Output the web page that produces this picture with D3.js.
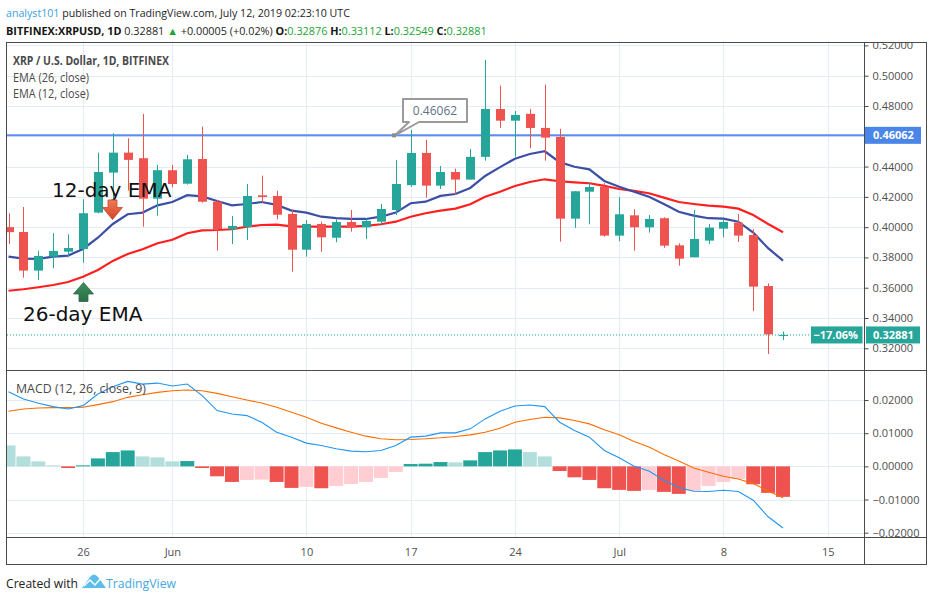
<!DOCTYPE html>
<html><head><meta charset="utf-8">
<script src="https://cdn.jsdelivr.net/npm/d3@7"></script>
<style>body{margin:0;background:#fff;} svg{display:block;}</style>
</head><body><svg id="c" width="933" height="601"></svg>
<script>
// ---------------- DATA ----------------
const dates = ["2019-05-21","2019-05-22","2019-05-23","2019-05-24","2019-05-25","2019-05-26","2019-05-27","2019-05-28","2019-05-29","2019-05-30","2019-05-31",
"2019-06-01","2019-06-02","2019-06-03","2019-06-04","2019-06-05","2019-06-06","2019-06-07","2019-06-08","2019-06-09","2019-06-10","2019-06-11","2019-06-12","2019-06-13","2019-06-14","2019-06-15","2019-06-16","2019-06-17","2019-06-18","2019-06-19","2019-06-20","2019-06-21","2019-06-22","2019-06-23","2019-06-24","2019-06-25","2019-06-26","2019-06-27","2019-06-28","2019-06-29","2019-06-30",
"2019-07-01","2019-07-02","2019-07-03","2019-07-04","2019-07-05","2019-07-06","2019-07-07","2019-07-08","2019-07-09","2019-07-10","2019-07-11","2019-07-12"];
const openV  = [0.4000,0.3968,0.3713,0.3805,0.3838,0.3856,0.4096,0.4360,0.4492,0.4455,0.4188,0.4376,0.4287,0.4450,0.4168,0.3986,0.4001,0.4210,0.4206,0.4087,0.3851,0.4021,0.3930,0.4034,0.3999,0.4036,0.4113,0.4277,0.4490,0.4274,0.4364,0.4314,0.4464,0.4780,0.4703,0.4748,0.4655,0.4596,0.4056,0.4234,0.4267,0.3944,0.4078,0.3999,0.4059,0.3880,0.3801,0.3911,0.3990,0.4030,0.3948,0.3611,0.32876];
const highV  = [0.4092,0.4133,0.3845,0.3960,0.3953,0.4184,0.4492,0.4620,0.4587,0.4748,0.4411,0.4411,0.4477,0.4664,0.4180,0.4074,0.4285,0.4340,0.4241,0.4118,0.4047,0.4036,0.4052,0.4113,0.4056,0.4153,0.4444,0.4642,0.4576,0.4404,0.4386,0.4516,0.5104,0.4934,0.4767,0.4779,0.4941,0.4649,0.4237,0.4296,0.4290,0.4197,0.4118,0.4080,0.4065,0.3893,0.4113,0.4021,0.4054,0.4087,0.3986,0.3629,0.33112];
const lowV   = [0.3889,0.3666,0.3651,0.3728,0.3810,0.3765,0.4092,0.4184,0.4241,0.4003,0.4076,0.4263,0.4281,0.4162,0.3845,0.3889,0.3915,0.4162,0.4052,0.3706,0.3805,0.3838,0.3900,0.3970,0.3922,0.4012,0.4080,0.4267,0.4195,0.4252,0.4213,0.4314,0.4439,0.4655,0.4466,0.4521,0.4439,0.3904,0.3995,0.4019,0.3937,0.3907,0.3845,0.3964,0.3864,0.3746,0.3801,0.3889,0.3933,0.3902,0.3446,0.3162,0.32549];
const closeV = [0.3967,0.3713,0.3810,0.3843,0.3862,0.4092,0.4364,0.4492,0.4444,0.4188,0.4376,0.4285,0.4448,0.4168,0.3986,0.4008,0.4206,0.4199,0.4082,0.3851,0.4021,0.3933,0.4034,0.3999,0.4041,0.4120,0.4285,0.4490,0.4274,0.4364,0.4314,0.4464,0.4780,0.4703,0.4741,0.4655,0.4591,0.4056,0.4237,0.4265,0.3944,0.4085,0.3999,0.4054,0.3878,0.3792,0.3922,0.3997,0.4034,0.3944,0.3607,0.3292,0.32881];
const ema12  = [0.3805,0.3792,0.3790,0.3805,0.3812,0.3856,0.3930,0.4021,0.4085,0.4096,0.4144,0.4166,0.4211,0.4203,0.4173,0.4144,0.4153,0.4166,0.4147,0.4109,0.4096,0.4069,0.4059,0.4054,0.4054,0.4069,0.4096,0.4158,0.4168,0.4206,0.4219,0.4259,0.4338,0.4396,0.4452,0.4483,0.4501,0.4429,0.4399,0.4382,0.4305,0.4267,0.4234,0.4201,0.4153,0.4102,0.4076,0.4059,0.4056,0.4036,0.3964,0.3861,0.3779];
const ema26  = [0.3580,0.3590,0.3603,0.3618,0.3638,0.3673,0.3717,0.3777,0.3823,0.3854,0.3894,0.3917,0.3960,0.3979,0.3981,0.3986,0.4003,0.4014,0.4016,0.4005,0.4004,0.4004,0.4004,0.4004,0.4008,0.4019,0.4036,0.4069,0.4092,0.4109,0.4122,0.4151,0.4201,0.4234,0.4272,0.4298,0.4316,0.4303,0.4296,0.4290,0.4272,0.4252,0.4239,0.4224,0.4195,0.4166,0.4153,0.4142,0.4135,0.4122,0.4080,0.4021,0.3966];
const macdV  = [0.0225,0.0203,0.0190,0.0180,0.0173,0.0183,0.0218,0.0240,0.0256,0.0248,0.0251,0.0242,0.0248,0.0213,0.0168,0.0158,0.0153,0.0133,0.0103,0.0088,0.0070,0.0063,0.0053,0.0046,0.0044,0.0048,0.0063,0.0088,0.0091,0.0101,0.0101,0.0113,0.0143,0.0166,0.0182,0.0185,0.0180,0.0133,0.0108,0.0088,0.0048,0.0026,0.0000,-0.0014,-0.0042,-0.0064,-0.0075,-0.0076,-0.0072,-0.0076,-0.0102,-0.0152,-0.0186];
const signalV= [0.0166,0.0173,0.0176,0.0177,0.0177,0.0178,0.0186,0.0195,0.0208,0.0216,0.0223,0.0228,0.0230,0.0228,0.0220,0.0210,0.0200,0.0191,0.0178,0.0163,0.0148,0.0130,0.0116,0.0103,0.0091,0.0083,0.0080,0.0081,0.0083,0.0086,0.0090,0.0095,0.0103,0.0115,0.0133,0.0141,0.0148,0.0146,0.0138,0.0128,0.0110,0.0095,0.0075,0.0058,0.0036,0.0016,-0.0005,-0.0018,-0.0030,-0.0038,-0.0052,-0.0074,-0.0095];
const histV  = [0.0063,0.0030,0.0015,0.0003,-0.0005,0.0003,0.0024,0.0043,0.0048,0.0030,0.0027,0.0015,0.0016,-0.0005,-0.0030,-0.0047,-0.0041,-0.0040,-0.0047,-0.0065,-0.0062,-0.0066,-0.0059,-0.0053,-0.0047,-0.0035,-0.0017,0.0007,0.0008,0.0013,0.0012,0.0018,0.0043,0.0048,0.0051,0.0043,0.0030,-0.0014,-0.0033,-0.0041,-0.0066,-0.0071,-0.0074,-0.0071,-0.0077,-0.0083,-0.0074,-0.0059,-0.0047,-0.0038,-0.0054,-0.0080,-0.0092];
const xTickDates  = ["2019-05-26","2019-06-01","2019-06-10","2019-06-17","2019-06-24","2019-07-01","2019-07-08","2019-07-15"];
const xTickLabels = ["26","Jun","10","17","24","Jul","8","15"];
const priceTicks  = [0.32,0.34,0.36,0.38,0.40,0.42,0.44,0.46,0.48,0.50,0.52];
const macdTicks   = [-0.02,-0.01,0,0.01,0.02];
const levelPrice  = 0.46062;
const lastPrice   = 0.32881;
const lastChange  = "−17.06%";

// ---------------- SETUP ----------------
const svg = d3.select('#c');
const parse = d3.utcParse('%Y-%m-%d');
const dts = dates.map(parse);
const L = 6.5, R = 864.5, T = 42.5, SEP = 370.5, XB = 537.5, B = 564.5, OR = 926.5;
const x  = d3.scaleUtc().domain([parse("2019-05-26"), parse("2019-07-15")]).range([83, 827.7]);
const yP = d3.scaleLinear().domain([0.32, 0.50]).range([348.3, 75.7]);
const yM = d3.scaleLinear().domain([-0.02, 0.02]).range([532.7, 400]);
const FONT = "'Open Sans', 'Noto Sans', sans-serif";
const GREEN = "#26a69a", RED = "#ef5350";

function fit(sel, w) {
  const cur = sel.node().getComputedTextLength();
  if (Math.abs(cur - w) > 1) sel.attr('textLength', w).attr('lengthAdjust', 'spacingAndGlyphs');
  return sel;
}
// shrink font-size so the text's natural width is w
function fitSize(sel, w) {
  const fs = parseFloat(sel.attr('font-size'));
  const cur = sel.node().getComputedTextLength();
  sel.attr('font-size', (fs * w / cur).toFixed(2));
  return sel;
}

const defs = svg.append('defs');
defs.append('clipPath').attr('id','cp').append('rect').attr('x',7).attr('y',43).attr('width',R-7).attr('height',SEP-43);
defs.append('clipPath').attr('id','cm').append('rect').attr('x',7).attr('y',SEP+0.5).attr('width',R-7).attr('height',XB-SEP-1);
defs.append('clipPath').attr('id','cpa').append('rect').attr('x',R).attr('y',43).attr('width',70).attr('height',SEP-43);
defs.append('clipPath').attr('id','cma').append('rect').attr('x',R).attr('y',SEP+0.5).attr('width',70).attr('height',XB-SEP-1);
const gr = defs.append('linearGradient').attr('id','gRed').attr('x1',0).attr('x2',0).attr('y1',0).attr('y2',1);
gr.append('stop').attr('offset','0%').attr('stop-color','#f07a55');
gr.append('stop').attr('offset','100%').attr('stop-color','#d2452a');
const gg = defs.append('linearGradient').attr('id','gGreen').attr('x1',0).attr('x2',0).attr('y1',0).attr('y2',1);
gg.append('stop').attr('offset','0%').attr('stop-color','#3f8f5e');
gg.append('stop').attr('offset','100%').attr('stop-color','#2b6e45');

// ---------------- GRID ----------------
const grid = svg.append('g').attr('stroke','#e4ebf2').attr('stroke-width',1);
priceTicks.forEach(v => { const yy = Math.round(yP(v))+0.5; if (yy>43 && yy<SEP) grid.append('line').attr('x1',7).attr('x2',R).attr('y1',yy).attr('y2',yy); });
macdTicks.forEach(v => { const yy = Math.round(yM(v))+0.5; grid.append('line').attr('x1',7).attr('x2',R).attr('y1',yy).attr('y2',yy); });
xTickDates.forEach(s => { const xx = Math.round(x(parse(s)))+0.5;
  grid.append('line').attr('x1',xx).attr('x2',xx).attr('y1',43).attr('y2',SEP);
  grid.append('line').attr('x1',xx).attr('x2',xx).attr('y1',SEP+1).attr('y2',XB); });

// ---------------- PRICE PANE ----------------
const pp = svg.append('g').attr('clip-path','url(#cp)');
pp.append('line').attr('x1',7).attr('x2',R).attr('y1',yP(levelPrice)).attr('y2',yP(levelPrice))
  .attr('stroke','#5b8ef0').attr('stroke-width',2);
pp.append('line').attr('x1',7).attr('x2',811).attr('y1',yP(lastPrice)).attr('y2',yP(lastPrice))
  .attr('stroke',GREEN).attr('stroke-width',1).attr('stroke-dasharray','1,2');
const lineP = arr => d3.line().x((d,i)=>x(dts[i])).y(d=>yP(d))(arr);
pp.append('path').attr('d',lineP(ema26)).attr('fill','none').attr('stroke','#ff1f1f').attr('stroke-width',2.2);
pp.append('path').attr('d',lineP(ema12)).attr('fill','none').attr('stroke','#3b4fa6').attr('stroke-width',2.2);
const candles = pp.append('g');
dts.forEach((d,i) => {
  const cx = Math.round(x(d)) + 0.5;
  const up = closeV[i] >= openV[i];
  const col = up ? GREEN : RED;
  candles.append('line').attr('x1',cx).attr('x2',cx).attr('y1',yP(highV[i])).attr('y2',yP(lowV[i])).attr('stroke',col).attr('stroke-width',1);
  const top = yP(Math.max(openV[i],closeV[i])), bot = yP(Math.min(openV[i],closeV[i]));
  candles.append('rect').attr('x',cx-4.5).attr('y',top).attr('width',9).attr('height',Math.max(1,bot-top)).attr('fill',col);
});

// callout
const cy = yP(levelPrice);
svg.append('path').attr('d',`M403,99 H467 V122 H419 L395,${cy} L409,122 H403 Z`)
  .attr('fill','#fff').attr('stroke','#9a9a9a').attr('stroke-width',2).attr('stroke-linejoin','round');
svg.append('rect').attr('x',392).attr('y',cy-2).attr('width',4).attr('height',4).attr('fill','#8a8a8a');
svg.append('text').attr('x',435).attr('y',115).attr('text-anchor','middle').attr('font-family',FONT).attr('font-size',12)
  .attr('fill','#5f7285').text(levelPrice.toFixed(5));

// annotations
svg.append('text').attr('x',52).attr('y',197).attr('font-family','DejaVu Sans').attr('font-size',20).attr('fill','#111').text('12-day EMA');
svg.append('text').attr('x',23).attr('y',321).attr('font-family','DejaVu Sans').attr('font-size',20).attr('fill','#111').text('26-day EMA');
svg.append('path').attr('d','M108,200 H117 V207.5 H122.5 L112.5,219.5 L102.5,207.5 H108 Z')
  .attr('fill','url(#gRed)').attr('stroke','#c4492e').attr('stroke-width',0.8);
svg.append('path').attr('d','M79,301.5 H88 V294 H93.5 L83.5,282.5 L73.5,294 H79 Z')
  .attr('fill','url(#gGreen)').attr('stroke','#2a6a45').attr('stroke-width',0.8);

// ---------------- MACD PANE ----------------
const mp = svg.append('g').attr('clip-path','url(#cm)');
histV.forEach((v,i) => {
  const prev = i === 0 ? v + 1 : histV[i-1];
  let col;
  if (v >= 0) col = v > prev ? GREEN : '#b2dfdb';
  else col = v < prev ? RED : '#ffcdd2';
  const cx = x(dts[i]);
  const y0 = yM(0), y1 = yM(v);
  mp.append('rect').attr('x',cx-7).attr('width',14).attr('y',Math.min(y0,y1)).attr('height',Math.max(1,Math.abs(y1-y0))).attr('fill',col);
});
const lineM = arr => d3.line().x((d,i)=>x(dts[i])).y(d=>yM(d))(arr);
mp.append('path').attr('d',lineM(signalV)).attr('fill','none').attr('stroke','#ff6d00').attr('stroke-width',1.1);
mp.append('path').attr('d',lineM(macdV)).attr('fill','none').attr('stroke','#2196f3').attr('stroke-width',1.1);

// ---------------- FRAME & AXES ----------------
const fr = svg.append('g').attr('stroke','#4a4a4a').attr('stroke-width',1).attr('fill','none');
fr.append('rect').attr('x',L).attr('y',T).attr('width',OR-L).attr('height',B-T);
fr.append('line').attr('x1',R).attr('x2',R).attr('y1',T).attr('y2',B);
fr.append('line').attr('x1',L).attr('x2',OR).attr('y1',SEP).attr('y2',SEP);
fr.append('line').attr('x1',L).attr('x2',OR).attr('y1',XB).attr('y2',XB);

function styleAxis(g){
  g.select('.domain').remove();
  g.selectAll('.tick line').attr('stroke','#4a4a4a');
  g.selectAll('.tick text').attr('font-family',FONT).attr('font-size',11).attr('fill','#4f4f4f');
}
const pa = svg.append('g').attr('clip-path','url(#cpa)').append('g').attr('transform',`translate(${R},0)`)
  .call(d3.axisRight(yP).tickValues(priceTicks).tickFormat(d=>d.toFixed(5)).tickSize(4).tickPadding(4));
styleAxis(pa);
const ma = svg.append('g').attr('clip-path','url(#cma)').append('g').attr('transform',`translate(${R},0)`)
  .call(d3.axisRight(yM).tickValues(macdTicks).tickFormat(d=>(d<0?'−':'')+Math.abs(d).toFixed(5)).tickSize(4).tickPadding(4));
styleAxis(ma);
const xa = svg.append('g').attr('transform',`translate(0,${XB})`)
  .call(d3.axisBottom(x).tickValues(xTickDates.map(parse)).tickFormat((d,i)=>xTickLabels[i]).tickSize(0).tickPadding(11));
styleAxis(xa);

// price labels on axis
const ly = yP(levelPrice);
svg.append('rect').attr('x',R+0.5).attr('y',ly-8.5).attr('width',56).attr('height',17).attr('fill','#4a86e8');
svg.append('text').attr('x',873).attr('y',ly+4).attr('font-family',FONT).attr('font-size',11).attr('font-weight','bold').attr('fill','#fff').text(levelPrice.toFixed(5));
const lp = yP(lastPrice);
svg.append('rect').attr('x',811).attr('y',lp-8.5).attr('width',51.5).attr('height',17).attr('fill',GREEN);
svg.append('rect').attr('x',866).attr('y',lp-8.5).attr('width',54).attr('height',17).attr('fill',GREEN);
svg.append('text').attr('x',858).attr('y',lp+4).attr('text-anchor','end').attr('font-family',FONT).attr('font-size',11).attr('font-weight','bold').attr('fill','#fff').text(lastChange);
svg.append('text').attr('x',873).attr('y',lp+4).attr('font-family',FONT).attr('font-size',11).attr('font-weight','bold').attr('fill','#fff').text(lastPrice.toFixed(5));

// ---------------- LEGENDS ----------------
const lg = svg.append('g').attr('font-family',FONT).attr('font-size',12).attr('fill','#4a4a4a');
fit(lg.append('text').attr('x',13).attr('y',65).attr('font-weight','bold').text('XRP / U.S. Dollar, 1D, BITFINEX'), 156);
fit(lg.append('text').attr('x',13).attr('y',81.5).text('EMA (26, close)'), 76);
fit(lg.append('text').attr('x',13).attr('y',98).text('EMA (12, close)'), 76);
fit(lg.append('text').attr('x',16).attr('y',393).attr('font-size',12.5).text('MACD (12, 26, close, 9)'), 130);

// ---------------- HEADER ----------------
const h1 = svg.append('text').attr('x',6).attr('y',17).attr('font-family',FONT).attr('font-size',12.5).attr('fill','#1e1e1e');
h1.append('tspan').attr('fill','#3aa3dc').text('analyst101');
h1.append('tspan').text(' published on TradingView.com, July 12, 2019 02:23:10 UTC');
fitSize(h1, 344);

const headSegs = [["BITFINEX:XRPUSD, 1D", "bold", "#131313"], [" 0.32881 ", "normal", "#1e1e1e"], ["▲", "normal", "#21a336"],
  [" +0.00005 (+0.02%) ", "normal", "#1e1e1e"], ["O:", "bold", "#131313"], ["0.32876", "normal", "#21a336"],
  [" H:", "bold", "#131313"], ["0.33112", "normal", "#21a336"], [" L:", "bold", "#131313"], ["0.32549", "normal", "#21a336"],
  [" C:", "bold", "#131313"], ["0.32881", "normal", "#21a336"]];
const h2 = svg.append('text').attr('x',6).attr('y',34.5).attr('font-family',FONT).attr('font-size',12.5);
headSegs.forEach(s => h2.append('tspan').attr('font-weight',s[1]).attr('fill',s[2]).text(s[0]));
fitSize(h2, 481);

// ---------------- FOOTER ----------------
const ft1 = svg.append('text').attr('x',6).attr('y',588).attr('font-family',FONT).attr('font-size',14).attr('fill','#222').text('Created with');
fitSize(ft1, 72);
const ft2 = svg.append('text').attr('x',106).attr('y',588).attr('font-family',FONT).attr('font-size',14).attr('fill','#43a9e0').text('TradingView');
fitSize(ft2, 70);
svg.append('path').attr('d','M82,588 L90,577 Q94,572 98,577 L106,588 Z').attr('fill','#5bbde8');
svg.append('path').attr('d','M84,586 L90,580 L95,585 L101,578 L104,582').attr('fill','none').attr('stroke','#fff').attr('stroke-width',1.5);
</script></body></html>
